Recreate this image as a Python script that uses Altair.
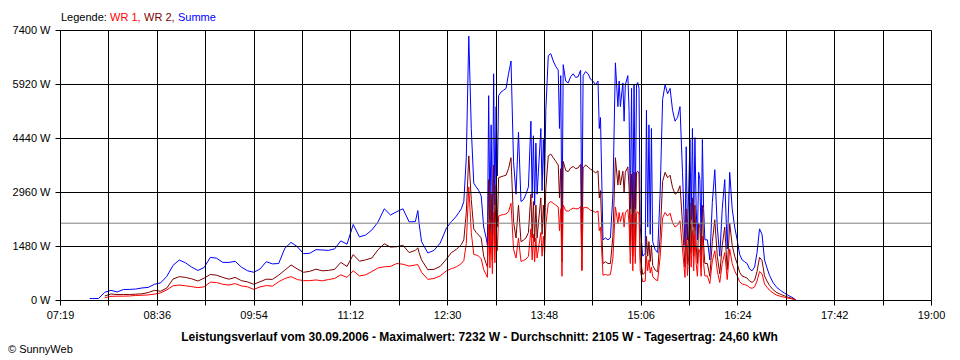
import json
import altair as alt
import pandas as pd

# ---------------- data (time in minutes since midnight, power in W) ----------------
# morning (smooth part)
t_a = [463, 465, 470, 475, 480, 485, 490, 495, 500, 505,
       510, 515, 520, 525, 530, 535, 540, 545, 550, 555,
       560, 565, 570, 575, 580, 585, 590, 595, 600, 605,
       610, 615, 620, 625, 630, 635, 640, 645, 650, 655,
       660, 665, 670, 675, 680, 685, 690, 695, 700, 705,
       710, 715, 720, 725, 727, 728, 730, 735, 740, 745,
       750]
summe_a = [40, 41, 41, 210, 265, 220, 287, 290, 300, 330,
           345, 430, 470, 650, 950, 1095, 1020, 900, 810, 890,
           1170, 1145, 1030, 1030, 1060, 900, 800, 760, 850, 1050,
           990, 1000, 1420, 1580, 1460, 1270, 1280, 1380, 1370, 1360,
           1400, 1620, 1530, 2070, 1730, 1780, 1920, 2140, 2500, 2330,
           2420, 2500, 2140, 2150, 2450, 2100, 1600, 1290, 1360, 1560,
           1970]
wr2_a = [None, None, None, 110, 165, 150, 150, 150, 160, 170,
         205, 265, 240, 330, 575, 640, 620, 580, 520, 600,
         700, 680, 620, 570, 620, 530, 495, 430, 500, 570,
         565, 680, 820, 960, 850, 760, 785, 845, 800, 810,
         840, 1030, 920, 1245, 1063, 1100, 1150, 1380, 1540, 1450,
         1460, 1500, 1300, 1360, 1430, 1300, 1100, 830, 840, 920,
         1120]
wr1_a = [None, None, None, 60, 100, 105, 105, 110, 125, 130,
         140, 160, 195, 280, 390, 410, 390, 365, 340, 360,
         490, 480, 430, 410, 450, 385, 360, 290, 360, 395,
         380, 500, 590, 640, 560, 530, 530, 550, 525, 560,
         590, 690, 620, 800, 660, 690, 780, 880, 910, 920,
         1000, 980, 930, 960, 970, 900, 760, 565, 590, 660,
         800]

# 12:34 - 13:36
t_b = [754, 756, 758, 760, 762, 764, 766, 768, 770, 772, 774, 776, 778, 780, 782,
       783, 784, 785, 786, 787, 788, 789, 790, 791, 792,
       794, 796, 798, 800, 802, 804, 806, 808, 810, 812, 814, 816]
summe_b = [2150, 2220, 2300, 2400, 2500, 2700, 3900, 7232, 4700, 3200, 3100, 3000, 2850, 2000, 1700,
           1500, 5600, 2200, 4800, 1800, 6200, 2600, 5300, 3400, 5600,
           5700, 5750, 5800, 6200, 6550, 3800, 2900, 4600, 2700, 2750, 2900, 3100]
wr2_b = [1300, 1340, 1390, 1450, 1520, 1650, 2400, 3950, 2750, 1950, 1850, 1780, 1700, 1200, 1000,
         900, 3300, 1300, 2900, 1100, 3700, 1550, 3150, 2000, 3350,
         3380, 3400, 3420, 3600, 3900, 2150, 1700, 2600, 1600, 1640, 1700, 1850]
wr1_b = [860, 880, 910, 950, 1000, 1080, 1550, 3100, 1850, 1250, 1230, 1200, 1130, 830, 700,
         620, 2150, 880, 1900, 720, 2400, 1020, 2100, 1350, 2300,
         2330, 2340, 2360, 2420, 2650, 1400, 1150, 1700, 1060, 1080, 1120, 1200]

# 13:38 - 14:40
t_c = [818, 819, 820, 821, 822, 823, 824,
       826, 827, 828, 829, 830,
       832, 834, 836, 838, 840,
       841, 842, 843, 844,
       846, 848, 850, 852, 854, 856, 858,
       859,
       860, 862, 864, 866, 868, 870, 872,
       873, 874,
       876, 878, 880]
summe_c = [4900, 2800, 4500, 2600, 4300, 2900, 3500,
           4700, 3000, 4400, 3200, 5200,
           6700, 6750, 6550, 6400, 6300,
           4700, 6150, 1700, 6450,
           6000, 5950, 6120, 6200, 6100, 6120, 6300,
           1650,
           6150, 6260, 6200, 6050, 6000, 5900, 6000,
           4700, 5000,
           1650, 1700, 1650]
wr2_c = [2900, 1700, 2700, 1600, 2600, 1700, 2100,
         2800, 1800, 2600, 1900, 3050,
         3950, 4000, 3900, 3800, 3700,
         2800, 3600, 1050, 3800,
         3550, 3520, 3620, 3660, 3600, 3620, 3720,
         830,
         3620, 3700, 3650, 3580, 3550, 3480, 3540,
         2800, 3000,
         1000, 1050, 1000]
wr1_c = [1950, 1100, 1800, 1050, 1700, 1150, 1400,
         1850, 1200, 1750, 1250, 2050,
         2650, 2700, 2650, 2600, 2550,
         1900, 2500, 650, 2600,
         2450, 2430, 2480, 2520, 2500, 2500, 2560,
         800,
         2520, 2540, 2520, 2460, 2440, 2400, 2440,
         1900, 2000,
         680, 700, 680]

# 14:42 - 15:44
t_d = [882, 884, 886, 888,
       889, 890,
       892, 893, 894,
       896, 897, 898, 899, 900, 901, 902, 903, 904, 905, 906,
       908, 910,
       911, 912, 913, 914, 915, 916,
       918, 920, 922, 924, 926, 928, 930, 932, 934, 936, 938, 940,
       942, 943, 944]
summe_d = [1700, 2900, 6500, 5300,
           6000, 5300,
           5950, 4900, 5900,
           6150, 5200, 2500, 5800, 2000, 5900, 2500, 5900, 5960, 5800, 2000,
           1200, 1280,
           5200, 2000, 4800, 1800, 4700, 1600,
           1380, 1300, 2930, 5500, 5900, 5650, 5800, 5200, 4900, 5000, 5300, 3500,
           1500, 4200, 1650]
wr2_d = [1000, 1750, 3900, 3150,
         3550, 3150,
         3530, 2950, 3500,
         3650, 3100, 1500, 3450, 1200, 3500, 1500, 3500, 3530, 3450, 1150,
         700, 760,
         1750, 1200, 1600, 1050, 1500, 950,
         820, 770, 1750, 3250, 3500, 3350, 3420, 3080, 2900, 2950, 3130, 2100,
         900, 2500, 980]
wr1_d = [700, 1150, 2550, 2100,
         2400, 2150,
         2400, 2000, 2390,
         2480, 2100, 1000, 2350, 800, 2380, 1000, 2380, 2420, 2350, 800,
         500, 520,
         1200, 800, 1100, 740, 900, 650,
         560, 530, 1180, 2250, 2400, 2300, 2380, 2120, 2000, 2050, 2170, 1400,
         620, 1700, 670]

# 15:46 - 17:11
t_e = [946, 947, 948, 949, 950, 951, 952, 953, 954, 955, 956, 957, 958,
       960, 962, 964, 966, 968, 970, 972, 974, 976, 978, 980, 982, 984,
       986, 988, 990, 992, 994, 996, 998, 1000, 1002, 1004, 1006, 1008, 1010,
       1013, 1016, 1019, 1022, 1025, 1028, 1031]
summe_e = [4400, 2200, 4700, 2000, 4450, 2500, 1650, 3500, 3300, 1600, 4400, 2500, 1650,
           1650, 1100, 2670, 3570, 2000, 1200, 2500, 3300, 1400, 3500, 2500, 2000, 1650,
           1250, 1100, 1050, 1000, 850, 800, 900, 1300, 1950, 1800, 1100, 880, 680,
           470, 340, 260, 190, 130, 75, 10]
wr2_e = [2650, 1300, 2800, 1200, 2600, 1500, 1000, 2100, 2000, 950, 2600, 1500, 1000,
         1000, 650, 1600, 2200, 1200, 720, 1500, 2000, 830, 2100, 1500, 1200, 1000,
         760, 660, 630, 600, 520, 480, 540, 780, 1170, 1080, 660, 520, 400,
         280, 200, 155, 115, 75, 45, 5]
wr1_e = [1750, 900, 1900, 800, 1800, 1000, 650, 1400, 1300, 650, 1750, 1000, 660,
         660, 450, 1070, 1350, 800, 480, 1000, 1300, 560, 1400, 1000, 800, 660,
         500, 440, 420, 400, 340, 320, 360, 520, 780, 720, 440, 350, 270,
         190, 130, 100, 75, 50, 30, 5]

average_w = 2105

x_ticks = [439, 477.944, 516.889, 555.833, 594.778, 633.722, 672.667, 711.611,
           750.556, 789.5, 828.444, 867.389, 906.333, 945.278, 984.222,
           1023.167, 1062.111, 1101.056, 1140]
x_tick_labels = ["07:19", "", "08:36", "", "09:54", "", "11:12", "", "12:30", "",
                 "13:48", "", "15:06", "", "16:24", "", "17:42", "", "19:00"]
y_ticks = [0, 1480, 2960, 4440, 5920, 7400]

legend_label = "Legende:"
series_names = ["WR 1,", "WR 2,", "Summe"]
title_text = ("Leistungsverlauf vom 30.09.2006 - Maximalwert: 7232 W - "
              "Durchschnitt: 2105 W - Tagesertrag: 24,60 kWh")
credit_text = "\u00a9 SunnyWeb"

# ---------------- build table ----------------
times = t_a + t_b + t_c + t_d + t_e
summe = summe_a + summe_b + summe_c + summe_d + summe_e
wr2 = wr2_a + wr2_b + wr2_c + wr2_d + wr2_e
wr1 = wr1_a + wr1_b + wr1_c + wr1_d + wr1_e
for seg in [(t_a, summe_a, wr2_a, wr1_a), (t_b, summe_b, wr2_b, wr1_b),
            (t_c, summe_c, wr2_c, wr1_c), (t_d, summe_d, wr2_d, wr1_d),
            (t_e, summe_e, wr2_e, wr1_e)]:
    assert len({len(s) for s in seg}) == 1, [len(s) for s in seg]

df = pd.DataFrame({"t": times, "summe": summe, "wr2": wr2, "wr1": wr1})

FONT = "Liberation Sans"
RED = "#ff0000"
DARKRED = "#800000"
BLUE = "#0000ff"

x_expr = "{}[indexof({}, round(datum.value))]".format(
    json.dumps(x_tick_labels), json.dumps([round(v) for v in x_ticks]))

x_scale = alt.Scale(domain=[x_ticks[0], x_ticks[-1]], nice=False, zero=False)
y_scale = alt.Scale(domain=[y_ticks[0], y_ticks[-1]], nice=False)

common_axis = dict(grid=True, gridColor="black", gridOpacity=1, gridWidth=1,
                   domainColor="black", tickColor="black", tickSize=5,
                   labelFont=FONT, labelFontSize=11, labelColor="black",
                   title=None, zindex=1, labelOverlap=False, labelFlush=False)

x_axis = alt.Axis(values=x_ticks, labelExpr=x_expr, labelPadding=4, labelAngle=0, **common_axis)
y_axis = alt.Axis(values=y_ticks, labelExpr="datum.value + ' W'", labelPadding=5, **common_axis)

X = alt.X("t:Q", scale=x_scale, axis=x_axis)

base = alt.Chart(df)

line_sum = base.mark_line(color=BLUE, strokeWidth=1).encode(
    x=X, y=alt.Y("summe:Q", scale=y_scale, axis=y_axis))
line_wr2 = base.mark_line(color=DARKRED, strokeWidth=1).encode(
    x=X, y=alt.Y("wr2:Q", scale=y_scale, axis=y_axis))
line_wr1 = base.mark_line(color=RED, strokeWidth=1).encode(
    x=X, y=alt.Y("wr1:Q", scale=y_scale, axis=y_axis))
avg_rule = alt.Chart(pd.DataFrame({"v": [average_w]})).mark_rule(
    color="#808080", strokeWidth=1).encode(y=alt.Y("v:Q", scale=y_scale, axis=y_axis))


def label(text, x, y, color="black", bold=False, align="left", size=11):
    return alt.Chart(pd.DataFrame({"s": [text]})).mark_text(
        align=align, baseline="alphabetic", font=FONT, fontSize=size,
        fontWeight="bold" if bold else "normal", color=color,
    ).encode(x=alt.value(x), y=alt.value(y), text="s:N")


texts = [
    label(legend_label, 1, -9),
    label(series_names[0], 50, -9, RED),
    label(series_names[1], 84, -9, DARKRED),
    label(series_names[2], 118, -9, BLUE),
    label(title_text, 419.5, 311, bold=True, align="center", size=12),
    label(credit_text, -52, 323),
]

chart = alt.layer(line_sum, line_wr2, line_wr1, avg_rule, *texts).properties(
    width=871, height=270,
    padding={"left": 52, "top": 22, "right": 21, "bottom": 58},
    autosize=alt.AutoSizeParams(type="none"),
    background="white",
).configure_view(stroke=None)

chart.save("out.html", embed_options={"renderer": "svg", "actions": False})
